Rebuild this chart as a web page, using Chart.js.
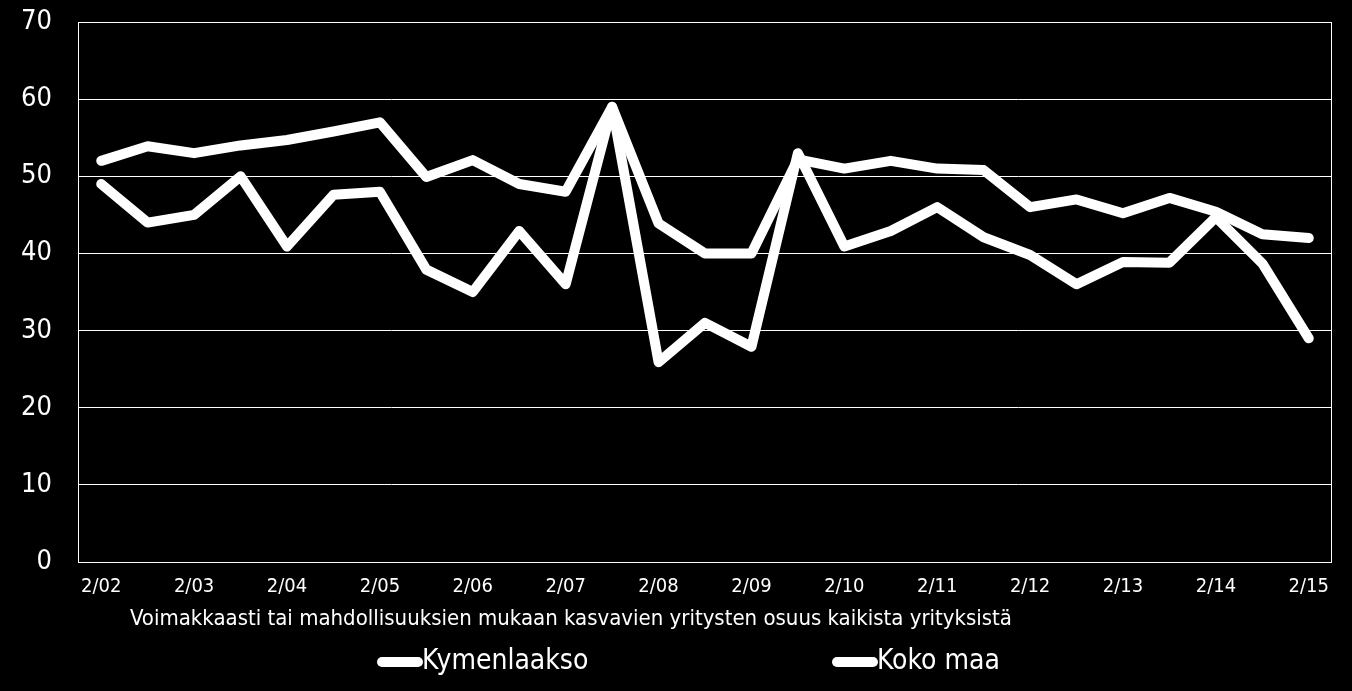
<!DOCTYPE html>
<html>
<head>
<meta charset="utf-8">
<script src="https://cdn.jsdelivr.net/npm/chart.js@4.4.1/dist/chart.umd.min.js"></script>
<style>
  html, body { margin: 0; padding: 0; background: #000; }
  #wrap { width: 1352px; height: 691px; position: relative; }
</style>
</head>
<body>
<div id="wrap"><canvas id="c" width="1352" height="691"></canvas></div>
<script>
const categories = ['2/02','8/02','2/03','8/03','2/04','8/04','2/05','8/05','2/06','8/06','2/07','8/07','2/08','8/08','2/09','8/09','2/10','8/10','2/11','8/11','2/12','8/12','2/13','8/13','2/14','8/14','2/15'];
const kymenlaakso = [49,44,45,50,40.9,47.6,48,37.9,35,42.9,36,59,25.9,31,27.9,53,40.9,42.9,46,42.1,39.8,36,38.9,38.8,44.7,38.7,29];
const kokoMaa = [52,53.9,53,54,54.7,55.8,57,49.9,52.1,49,48,59,43.9,40,40,52.2,51,52,51,50.8,46,47,45.2,47.2,45.4,42.5,42];
const seriesNames = ['Kymenlaakso', 'Koko maa'];
const axisTitle = 'Voimakkaasti tai mahdollisuuksien mukaan kasvavien yritysten osuus kaikista yrityksistä';
const yMin = 0, yMax = 70, yStep = 10;

const FONT = "'DejaVu Sans Condensed', 'Liberation Sans Narrow', 'DejaVu Sans', sans-serif";

const extras = {
  id: 'extras',
  beforeDatasetsDraw(chart) {
    const {ctx, chartArea: a} = chart;
    ctx.save();
    ctx.strokeStyle = '#fff';
    ctx.lineWidth = 1;
    ctx.strokeRect(a.left + 0.5, a.top + 0.5, a.right - a.left - 1, a.bottom - a.top);
    ctx.restore();
  },
  afterDraw(chart) {
    const ctx = chart.ctx;
    ctx.save();
    ctx.fillStyle = '#fff';
    ctx.font = '22px ' + FONT;
    ctx.textBaseline = 'middle';
    ctx.textAlign = 'left';
    ctx.fillText(axisTitle, 130, 619);
    const items = [{x: 378, name: seriesNames[0]}, {x: 833, name: seriesNames[1]}];
    ctx.font = '28px ' + FONT;
    items.forEach(it => {
      ctx.strokeStyle = '#fff';
      ctx.lineWidth = 10;
      ctx.lineCap = 'round';
      ctx.beginPath();
      ctx.moveTo(it.x + 4, 662);
      ctx.lineTo(it.x + 40, 662);
      ctx.stroke();
      ctx.fillText(it.name, it.x + 44, 662);
    });
    ctx.restore();
  }
};

new Chart(document.getElementById('c'), {
  type: 'line',
  data: {
    labels: categories,
    datasets: [
      { label: seriesNames[0], data: kymenlaakso, borderColor: '#fff', backgroundColor: '#fff', borderWidth: 10, pointRadius: 0, tension: 0, borderJoinStyle: 'round', borderCapStyle: 'round' },
      { label: seriesNames[1], data: kokoMaa, borderColor: '#fff', backgroundColor: '#fff', borderWidth: 10, pointRadius: 0, tension: 0, borderJoinStyle: 'round', borderCapStyle: 'round' }
    ]
  },
  options: {
    responsive: false,
    animation: false,
    layout: { padding: { top: 22, right: 20, bottom: 0, left: 0 } },
    plugins: { legend: { display: false }, tooltip: { enabled: false } },
    scales: {
      x: {
        offset: true,
        grid: { display: false, drawTicks: false },
        border: { display: false },
        ticks: {
          autoSkip: false, maxRotation: 0, color: '#fff', padding: 13,
          font: { family: FONT, size: 20 },
          callback: function(v, i) { return i % 2 === 0 ? categories[i] : ''; }
        },
        afterFit(s) { s.height = 129; s.paddingLeft = 0; s.paddingRight = 0; }
      },
      y: {
        min: yMin, max: yMax,
        grid: { color: '#fff', lineWidth: 1, drawTicks: false },
        border: { display: false },
        ticks: { stepSize: yStep, color: '#fff', padding: 26, font: { family: FONT, size: 27 } },
        afterFit(s) { s.width = 78; s.paddingTop = 0; s.paddingBottom = 0; }
      }
    }
  },
  plugins: [extras]
});
</script>
</body>
</html>
